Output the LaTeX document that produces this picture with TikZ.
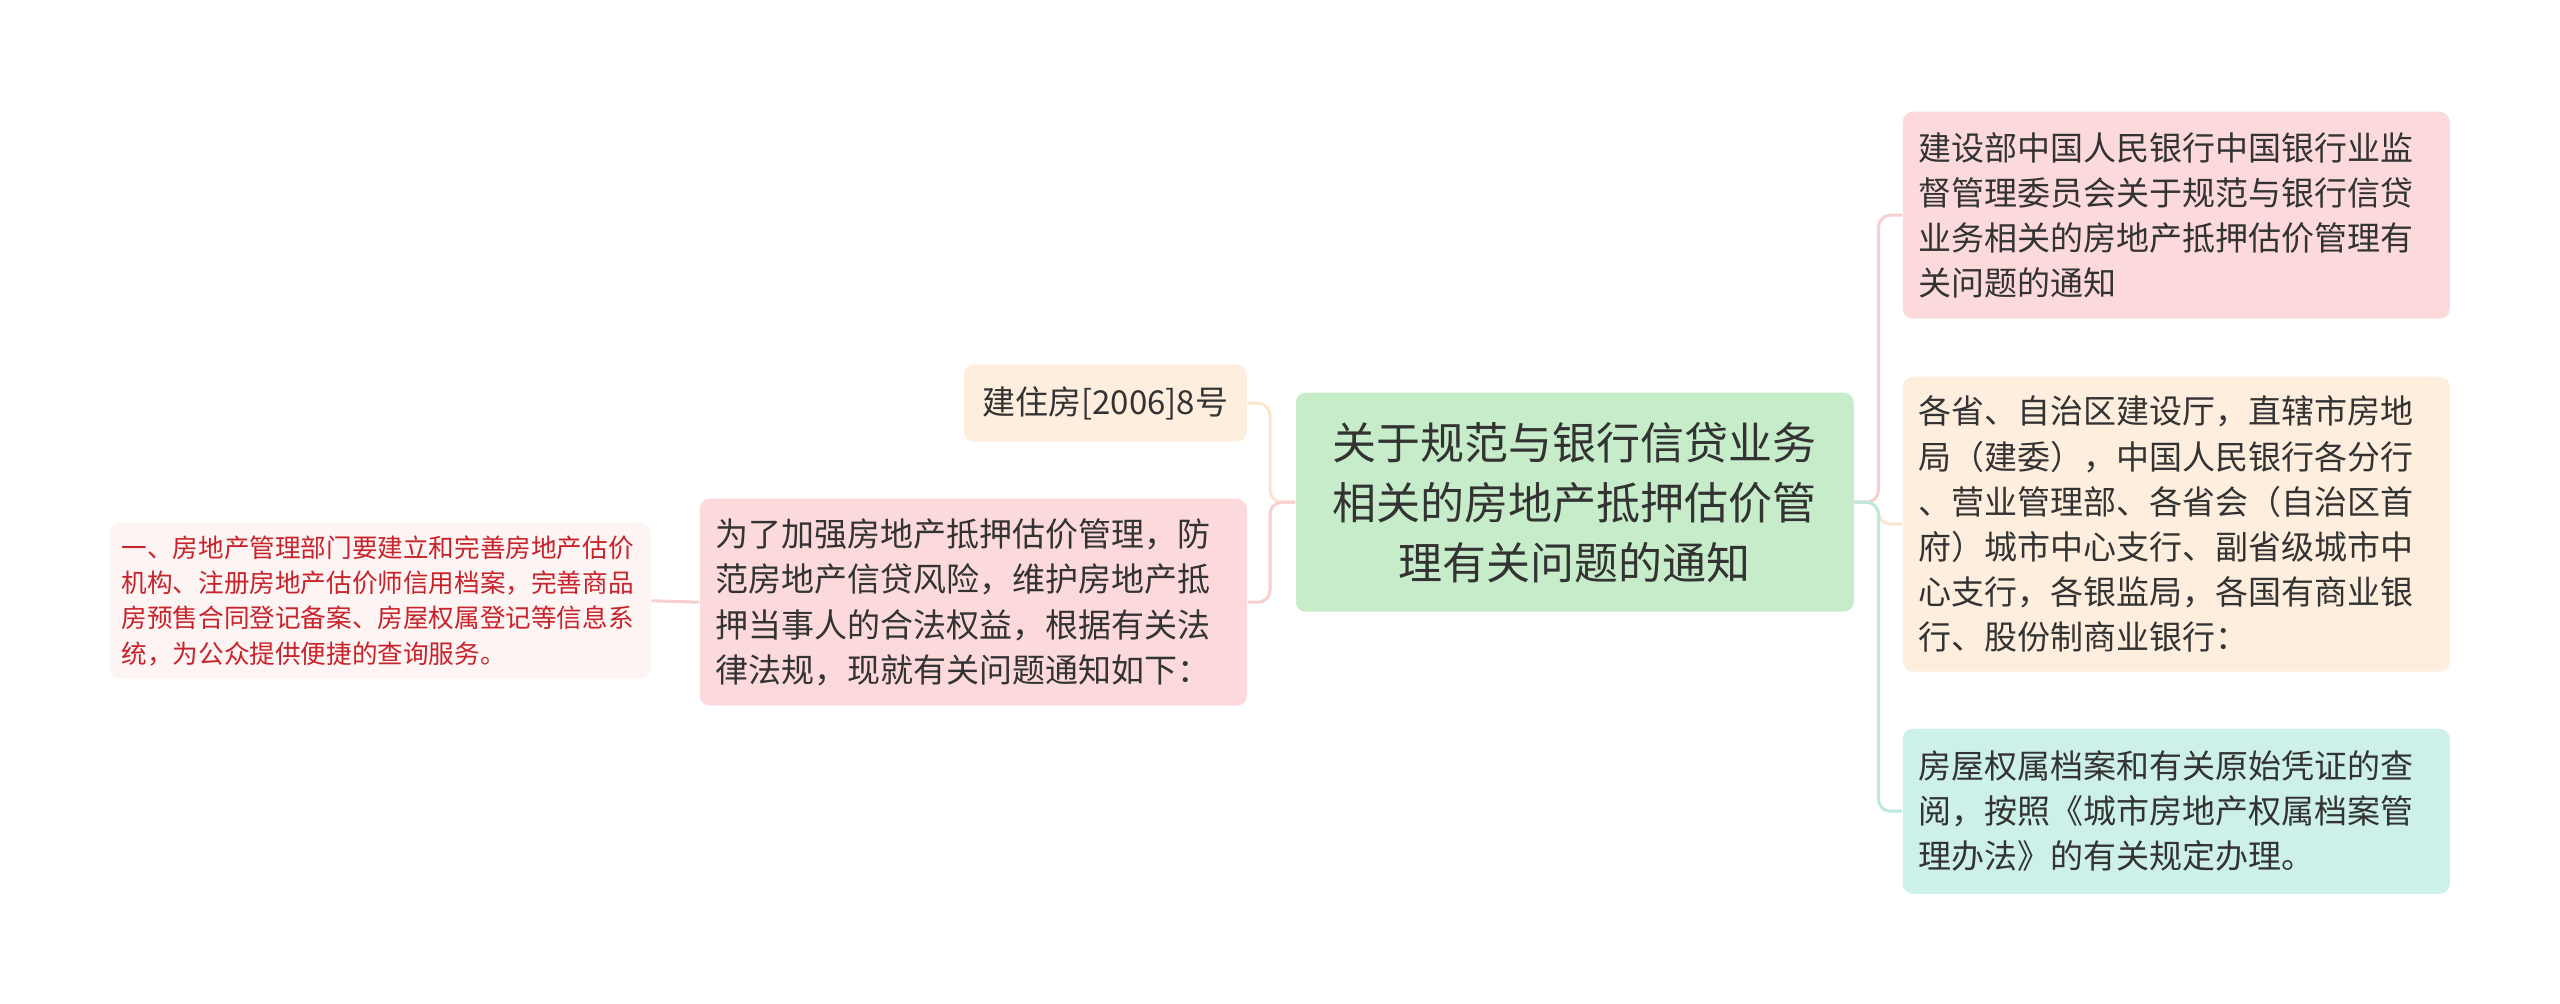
\documentclass[tikz,border=0pt]{standalone}
\usepackage{fontspec}
\setmainfont{Noto Sans CJK SC}

\definecolor{rootgreen}{RGB}{198,236,201}
\definecolor{boxpink}{RGB}{252,218,219}
\definecolor{boxbeige}{RGB}{254,238,222}
\definecolor{boxteal}{RGB}{205,240,233}
\definecolor{boxpale}{RGB}{253,244,244}
\definecolor{txtdark}{RGB}{51,51,51}
\definecolor{txtred}{RGB}{200,35,42}
\definecolor{linkpink}{RGB}{248,206,207}
\definecolor{linkbeige}{RGB}{252,229,206}
\definecolor{linkteal}{RGB}{186,233,225}

\tikzset{
	topic/.style={anchor=north west, rounded corners=5pt, draw=none, inner xsep=8pt, inner ysep=6pt,
		text=txtdark, align=left, font=\fontsize{16.5}{22.6}\selectfont},
	roottopic/.style={topic, fill=rootgreen, align=center, text width=263pt, minimum height=109.5pt,
		font=\fontsize{22}{30}\selectfont},
	sidetopic/.style={topic, text width=257.5pt},
	leaftopic/.style={topic, fill=boxpale, text=txtred, inner xsep=6pt, text width=258.5pt, minimum height=78pt,
		font=\fontsize{12.8}{17.7}\selectfont},
	link/.style={line width=1.5pt, rounded corners=6pt}}
\tikzset{every picture/.style={line width=0.75pt}}

\begin{document}
\begin{tikzpicture}[x=0.5pt,y=0.5pt,yscale=-1,xscale=1]
	\useasboundingbox (0,0) rectangle (2560,1004);

	% Root
	\node [roottopic] (root) at (1295,392) {关于规范与银行信贷业务\\相关的房地产抵押估价管\\理有关问题的通知};

	% Right topics
	\node [sidetopic, fill=boxpink, minimum height=103.5pt] (notice) at (1902,111) {建设部中国人民银行中国银行业监\\督管理委员会关于规范与银行信贷\\业务相关的房地产抵押估价管理有\\关问题的通知};
	\node [sidetopic, fill=boxbeige, minimum height=147.5pt] (recipients) at (1902,376) {各省、自治区建设厅，直辖市房地\\局（建委），中国人民银行各分行\\、营业管理部、各省会（自治区首\\府）城市中心支行、副省级城市中\\心支行，各银监局，各国有商业银\\行、股份制商业银行：};
	\node [sidetopic, fill=boxteal, minimum height=82.5pt] (archive) at (1902,728) {房屋权属档案和有关原始凭证的查\\阅，按照《城市房地产权属档案管\\理办法》的有关规定办理。};

	% Left topics
	\node [topic, fill=boxbeige, align=center, text width=125.5pt, minimum height=38.5pt] (docno) at (963,364) {建住房[2006]8号};
	\node [sidetopic, fill=boxpink, minimum height=103.5pt] (purpose) at (699,498) {为了加强房地产抵押估价管理，防\\范房地产信贷风险，维护房地产抵\\押当事人的合法权益，根据有关法\\律法规，现就有关问题通知如下：};
	\node [leaftopic] (first) at (109,522) {一、房地产管理部门要建立和完善房地产估价\\机构、注册房地产估价师信用档案，完善商品\\房预售合同登记备案、房屋权属登记等信息系\\统，为公众提供便捷的查询服务。};

	% Connectors
	\draw [link, linkpink] (root.east) -- ++(24,0) |- (notice.west);
	\draw [link, linkbeige] (root.east) -- ++(24,0) |- (recipients.west);
	\draw [link, linkteal] (root.east) -- ++(24,0) |- (archive.west);
	\draw [link, linkbeige] (root.west) -- ++(-25,0) |- (docno.east);
	\draw [link, linkpink] (root.west) -- ++(-25,0) |- (purpose.east);
	\draw [link, linkpink] (purpose.west) -- (first.east);

\end{tikzpicture}
\end{document}
